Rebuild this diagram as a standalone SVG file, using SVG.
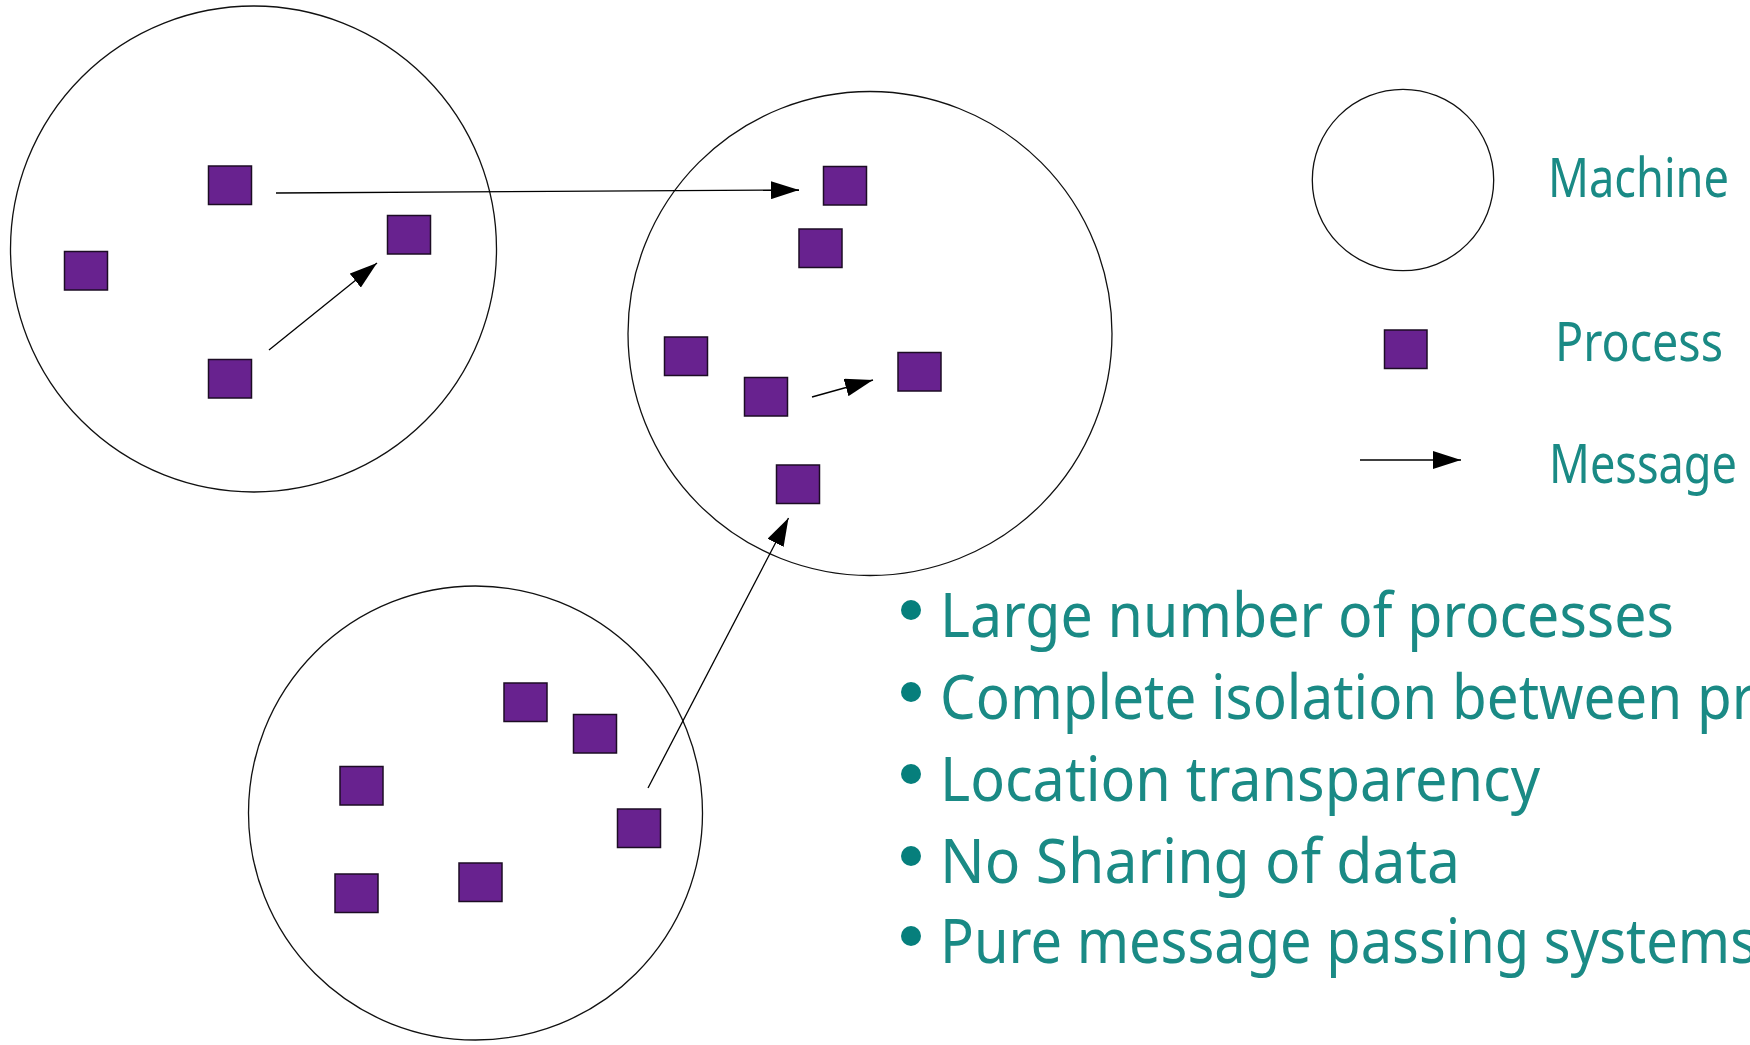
<svg xmlns="http://www.w3.org/2000/svg" width="1750" height="1045" viewBox="0 0 1750 1045">
<style>
.machine{fill:none;stroke:#111;stroke-width:1.3}
.proc{fill:#68228f;stroke:#1c0c24;stroke-width:1.5}
.msg{stroke:#000;stroke-width:1.3;fill:none;marker-end:url(#ah)}
.lbl{font-family:"Noto Sans","DejaVu Sans",sans-serif;fill:#1a8a85}
.big{font-size:62px}
.leg{font-size:54px}
.dot{fill:#067f7c}
</style>
<defs>
<marker id="ah" markerUnits="userSpaceOnUse" markerWidth="28" markerHeight="18" refX="28" refY="9" orient="auto">
<path d="M0,0 L28,9 L0,18 z" fill="#000"/>
</marker>
</defs>
<rect width="1750" height="1045" fill="#fff"/>
<g id="machine1">
<ellipse class="machine" cx="253.5" cy="249" rx="243" ry="243"/>
<rect id="p1a" class="proc" x="208.5" y="166" width="43" height="38.5"/>
<rect id="p1b" class="proc" x="64.5" y="251.5" width="43" height="38.5"/>
<rect id="p1c" class="proc" x="387.5" y="215.5" width="43" height="38.5"/>
<rect id="p1d" class="proc" x="208.5" y="359.5" width="43" height="38.5"/>
</g>
<g id="machine2">
<ellipse class="machine" cx="870" cy="333.5" rx="242" ry="242"/>
<rect id="p2a" class="proc" x="823.5" y="166.5" width="43" height="38.5"/>
<rect id="p2b" class="proc" x="799" y="229" width="43" height="38.5"/>
<rect id="p2c" class="proc" x="664.5" y="337" width="43" height="38.5"/>
<rect id="p2d" class="proc" x="744.5" y="377.5" width="43" height="38.5"/>
<rect id="p2e" class="proc" x="898" y="352.5" width="43" height="38.5"/>
<rect id="p2f" class="proc" x="776.5" y="465" width="43" height="38.5"/>
</g>
<g id="machine3">
<ellipse class="machine" cx="475.5" cy="813" rx="227" ry="227"/>
<rect id="p3a" class="proc" x="504" y="683" width="43" height="38.5"/>
<rect id="p3b" class="proc" x="573.5" y="714.5" width="43" height="38.5"/>
<rect id="p3c" class="proc" x="340" y="766.5" width="43" height="38.5"/>
<rect id="p3d" class="proc" x="617.5" y="809" width="43" height="38.5"/>
<rect id="p3e" class="proc" x="335" y="874" width="43" height="38.5"/>
<rect id="p3f" class="proc" x="459" y="863" width="43" height="38.5"/>
</g>
<g id="connectors">
<line class="msg" x1="276" y1="193" x2="799" y2="190"/>
<line class="msg" x1="269" y1="350" x2="377" y2="263"/>
<line class="msg" x1="812" y1="397" x2="873" y2="380"/>
<line class="msg" x1="648" y1="788" x2="788.5" y2="518"/>
</g>
<g id="legend">
<g id="legend-machine">
<circle class="machine" cx="1403" cy="180" r="90.7"/>
<text class="lbl leg" x="1548" y="197" textLength="181" lengthAdjust="spacingAndGlyphs">Machine</text>
</g>
<g id="legend-process">
<rect class="proc" x="1384.5" y="330" width="42.5" height="38.5"/>
<text class="lbl leg" x="1555" y="361" textLength="168" lengthAdjust="spacingAndGlyphs">Process</text>
</g>
<g id="legend-message">
<line class="msg" x1="1360" y1="460" x2="1461" y2="460"/>
<text class="lbl leg" x="1549" y="483" textLength="188" lengthAdjust="spacingAndGlyphs">Message</text>
</g>
</g>
<g id="bullets">
<circle class="dot" cx="911" cy="610" r="10"/>
<text class="lbl big" x="940" y="637" textLength="734" lengthAdjust="spacingAndGlyphs">Large number of processes</text>
<circle class="dot" cx="911" cy="692" r="10"/>
<text class="lbl big" x="940" y="719" textLength="815" lengthAdjust="spacingAndGlyphs">Complete isolation between pr</text>
<circle class="dot" cx="911" cy="774" r="10"/>
<text class="lbl big" x="940" y="801" textLength="600" lengthAdjust="spacingAndGlyphs">Location transparency</text>
<circle class="dot" cx="911" cy="856" r="10"/>
<text class="lbl big" x="940" y="883" textLength="520" lengthAdjust="spacingAndGlyphs">No Sharing of data</text>
<circle class="dot" cx="911" cy="936" r="10"/>
<text class="lbl big" x="940" y="963" textLength="817" lengthAdjust="spacingAndGlyphs">Pure message passing systems</text>
</g>
</svg>
